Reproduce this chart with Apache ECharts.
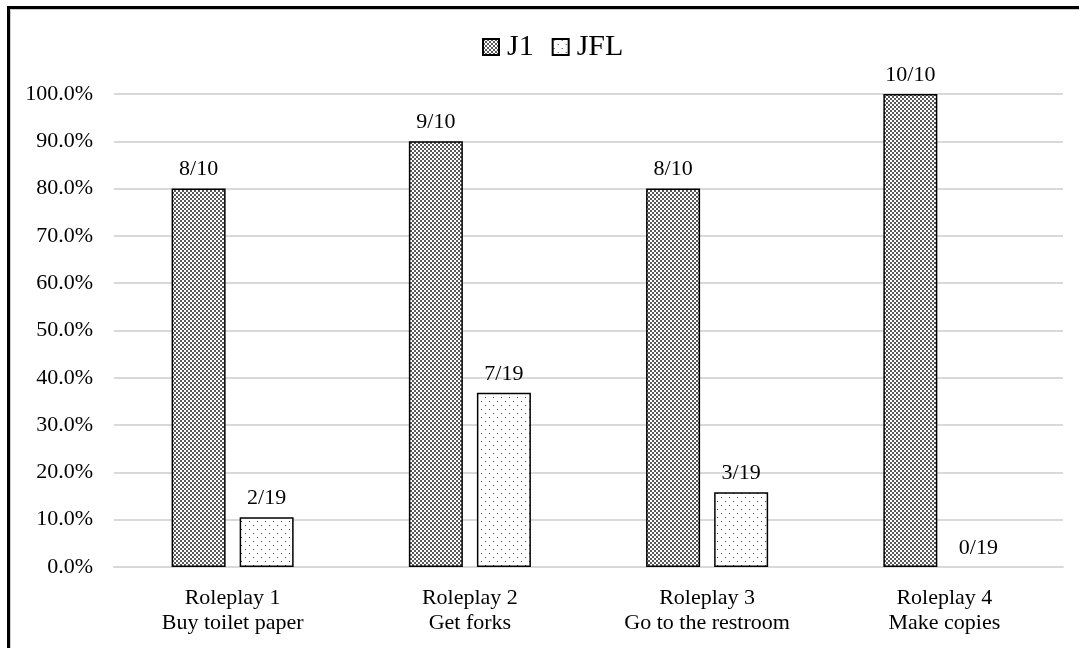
<!DOCTYPE html>
<html><head><meta charset="utf-8">
<script src="https://cdn.jsdelivr.net/npm/echarts@6/dist/echarts.min.js"></script>
<style>html,body{margin:0;padding:0;background:#fff}#c{width:1079px;height:648px}</style>
</head><body><div id="c"></div>
<script>
const categories = ['Roleplay 1\nBuy toilet paper', 'Roleplay 2\nGet forks', 'Roleplay 3\nGo to the restroom', 'Roleplay 4\nMake copies'];
const seriesNames = ['J1', 'JFL'];
const j1Values = [80, 90, 80, 100];
const jflValues = [10.53, 36.84, 15.79, 0];
const j1Labels = ['8/10', '9/10', '8/10', '10/10'];
const jflLabels = ['2/19', '7/19', '3/19', '0/19'];
const yTicks = [0, 10, 20, 30, 40, 50, 60, 70, 80, 90, 100];

function makePattern(size, cells, color) {
  const cv = document.createElement('canvas');
  cv.width = size; cv.height = size;
  const ctx = cv.getContext('2d');
  ctx.fillStyle = '#fff'; ctx.fillRect(0, 0, size, size);
  ctx.fillStyle = color;
  cells.forEach(c => ctx.fillRect(c[0], c[1], c[2], c[3]));
  return cv;
}
const denseCanvas = makePattern(4, [[0,0,2,2],[2,2,2,2]], '#5a5a5a');
const dotCanvas = makePattern(8, [[1,1,1,1],[5,5,1,1]], '#444');

const font = '"Liberation Serif", "Times New Roman", serif';
const chart = echarts.init(document.getElementById('c'), null, {renderer: 'canvas'});
const labelStyle = (arr) => ({
  show: true, position: 'top', distance: 8,
  fontFamily: font, fontSize: 22, color: '#000',
  formatter: p => arr[p.dataIndex]
});
const toItems = (vals) => vals.map(v => v === 0 ? {value: v, itemStyle: {borderWidth: 0, color: 'rgba(0,0,0,0)'}} : v);
chart.setOption({
  backgroundColor: '#fff',
  animation: false,
  graphic: [
    {type: 'rect', shape: {x: 7, y: 6, width: 1080, height: 3}, style: {fill: '#000'}},
    {type: 'rect', shape: {x: 7, y: 6, width: 3, height: 650}, style: {fill: '#000'}},
    {type: 'rect', shape: {x: 10, y: 9, width: 1080, height: 1}, style: {fill: '#ccc'}},
    {type: 'rect', shape: {x: 10, y: 9, width: 1, height: 650}, style: {fill: '#ccc'}}
  ],
  legend: {
    data: seriesNames, top: 27, left: 477,
    icon: 'rect',
    itemWidth: 16, itemHeight: 16, itemGap: 18,
    textStyle: {fontFamily: font, fontSize: 30, color: '#000', padding: [0, 0, 0, 3]}
  },
  grid: {left: 114, right: 16, top: 94, bottom: 81, containLabel: false},
  xAxis: {
    type: 'category', data: categories,
    axisLine: {lineStyle: {color: '#d9d9d9', width: 2}},
    axisTick: {show: false},
    axisLabel: {fontFamily: font, fontSize: 22, color: '#000', lineHeight: 25, margin: 19}
  },
  yAxis: {
    type: 'value', min: yTicks[0], max: yTicks[yTicks.length - 1], interval: 10,
    axisLine: {show: false}, axisTick: {show: false},
    splitLine: {lineStyle: {color: '#d9d9d9', width: 2}},
    axisLabel: {fontFamily: font, fontSize: 22, color: '#000', margin: 21,
      formatter: v => v.toFixed(1) + '%'}
  },
  series: [
    {name: seriesNames[0], type: 'bar', data: toItems(j1Values), barWidth: 54, barGap: '26%',
     itemStyle: {color: {image: denseCanvas, repeat: 'repeat'}, borderColor: '#000', borderWidth: 1.5},
     label: labelStyle(j1Labels)},
    {name: seriesNames[1], type: 'bar', data: toItems(jflValues), barWidth: 54,
     itemStyle: {color: {image: dotCanvas, repeat: 'repeat'}, borderColor: '#000', borderWidth: 1.5},
     label: labelStyle(jflLabels)}
  ]
});
</script></body></html>
